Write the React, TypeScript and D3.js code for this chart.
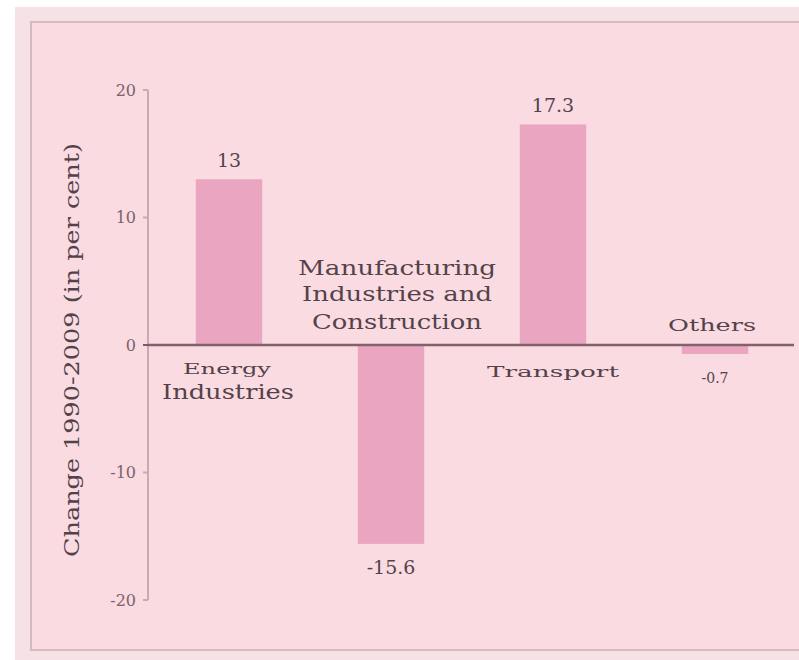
import React from "react";
import * as d3 from "d3";

const categories = ["Energy Industries", "Manufacturing Industries and Construction", "Transport", "Others"];
const values = [13, -15.6, 17.3, -0.7];
const valueLabels = ["13", "-15.6", "17.3", "-0.7"];
const yTicks = [-20, -10, 0, 10, 20];
const yTitle = "Change 1990-2009 (in per cent)";

// category label lines: [category index, text, dx from band centre, y, font size, textLength]
const catLabelLines: [number, string, number, number, number, number][] = [
  [0, "Energy", -2, 374, 15, 88],
  [0, "Industries", -1, 399, 21, 132],
  [1, "Manufacturing", 6, 275, 20, 198],
  [1, "Industries and", 6, 301, 20, 190],
  [1, "Construction", 6, 329, 20, 170],
  [2, "Transport", 0, 377, 14, 132],
  [3, "Others", -3, 331, 17, 88],
];

const W = 799;
const H = 660;
const font = "'DejaVu Serif', 'Liberation Serif', serif";
const textColor = "#54424a";

export default function App() {
  const y = d3.scaleLinear().domain([-20, 20]).range([600, 90]);
  const x = d3.scaleBand<string>().domain(categories).range([148, 796]).paddingInner(0.59).paddingOuter(0.295);
  const bw = x.bandwidth();
  const y0 = y(0);

  return (
    <svg width={W} height={H} style={{ position: "absolute", left: 0, top: 0, background: "#ffffff" }}>
      <rect x={15} y={7} width={W - 15} height={H - 7} fill="#f6e2e6" />
      <rect x={31} y={22} width={W - 31 + 5} height={628} fill="#f9dbe1" stroke="#d6b8bf" strokeWidth={2} />

      {/* bars */}
      {categories.map((c, i) => (
        <rect
          key={c}
          x={x(c)!}
          y={Math.min(y(values[i]), y0)}
          width={bw}
          height={Math.abs(y(values[i]) - y0)}
          fill="#eaa6c0"
        />
      ))}

      {/* y axis */}
      <line x1={148} x2={148} y1={y(20)} y2={y(-20)} stroke="#c9a9b2" strokeWidth={2} />
      {yTicks.map((t) => (
        <g key={t}>
          <line x1={143} x2={148} y1={y(t)} y2={y(t)} stroke={t === 0 ? "#7d5866" : "#c9a9b2"} strokeWidth={2} />
          <text
            x={136}
            y={y(t)}
            dy="0.35em"
            textAnchor="end"
            fontFamily={font}
            fontSize={16}
            fill="#7c6269"
          >
            {t}
          </text>
        </g>
      ))}

      {/* zero line */}
      <line x1={148} x2={794} y1={y0} y2={y0} stroke="#84606d" strokeWidth={2.5} />

      {/* value labels */}
      {categories.map((c, i) => {
        const cx = x(c)! + bw / 2;
        const v = values[i];
        let ly: number;
        if (v >= 0) ly = y(v) - 12;
        else if (Math.abs(y(v) - y0) < 20) ly = y0 + 38;
        else ly = y(v) + 30;
        return (
          <text
            key={c}
            x={cx}
            y={ly}
            textAnchor="middle"
            fontFamily={font}
            fontSize={v === -0.7 ? 14 : 19}
            fill={textColor}
          >
            {valueLabels[i]}
          </text>
        );
      })}

      {/* category labels */}
      {catLabelLines.map(([ci, txt, dx, ly, fs, tl], k) => {
        const cx = x(categories[ci])! + bw / 2 + dx;
        return (
          <text
            key={k}
            x={cx}
            y={ly}
            textAnchor="middle"
            fontFamily={font}
            fontSize={fs}
            fill={textColor}
            textLength={tl}
            lengthAdjust="spacingAndGlyphs"
          >
            {txt}
          </text>
        );
      })}

      {/* y title */}
      <text
        transform={`translate(79, 350) rotate(-90)`}
        textAnchor="middle"
        fontFamily={font}
        fontSize={20}
        fill={textColor}
        textLength={414}
        lengthAdjust="spacingAndGlyphs"
      >
        {yTitle}
      </text>
    </svg>
  );
}
